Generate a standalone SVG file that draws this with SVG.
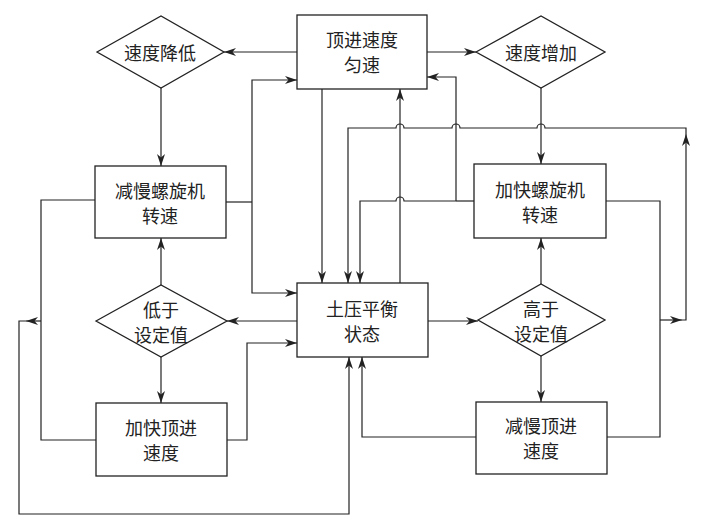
<svg xmlns="http://www.w3.org/2000/svg" width="705" height="524" viewBox="0 0 705 524">
<style>
.box{fill:#fff;stroke:#222;stroke-width:1.3}
.t{font-family:"Noto Sans CJK SC","Noto Sans",sans-serif;font-size:18px;fill:#222;text-anchor:middle;dominant-baseline:central}
.c{fill:none;stroke:#222;stroke-width:1.2}
.a{marker-end:url(#arr)}
</style>
<defs>
<marker id="arr" viewBox="0 0 12 8" markerWidth="12" markerHeight="8" markerUnits="userSpaceOnUse" refX="12" refY="4" orient="auto">
<path d="M0,0 L12,4 L0,8 L3.5,4 z" fill="#222"/>
</marker>
</defs>
<rect width="705" height="524" fill="#fff"/>
<g id="connectors">
<path class="c a" d="M297,52 L224,52"/>
<path class="c a" d="M427,52 L476,52"/>
<path class="c a" d="M161,88 L161,166"/>
<path class="c a" d="M541,88 L541,164"/>
<path class="c" d="M226,202 L252,202"/>
<path class="c a" d="M252,202 L252,80 L297,80"/>
<path class="c a" d="M252,202 L252,293 L297,293"/>
<path class="c a" d="M297,321 L227,321"/>
<path class="c a" d="M161,357 L161,403"/>
<path class="c a" d="M161,285 L161,238"/>
<path class="c a" d="M227,440 L247,440 L247,343 L297,343"/>
<path class="c" d="M95,200 L41,200 L41,440 L96,440"/>
<path class="c a" d="M41,321 L26,321"/>
<path class="c a" d="M26,321 L19,321 L19,514 L349,514 L349,357"/>
<path class="c a" d="M476,437 L362,437 L362,357"/>
<path class="c" d="M607,437 L660,437 L660,201 L606,201"/>
<path class="c a" d="M660,320 L682,320"/>
<path class="c a" d="M682,320 L686,320 L686,134"/>
<path class="c a" d="M686,134 L686,128 L545,128 A4,4 0 0 0 537,128 L460,128 A4,4 0 0 0 452,128 L404,128 A4,4 0 0 0 396,128 L348,128 L348,283"/>
<path class="c" d="M474,201 L456,201"/>
<path class="c a" d="M456,201 L456,77 L427,77"/>
<path class="c a" d="M456,201 L404,201 A4,4 0 0 0 396,201 L360,201 L360,283"/>
<path class="c a" d="M322,89 L322,283"/>
<path class="c a" d="M400,283 L400,89"/>
<path class="c a" d="M428,321 L478,321"/>
<path class="c a" d="M541,356 L541,402"/>
<path class="c a" d="M541,284 L541,238"/>
</g>
<g id="n_top"><rect class="box" x="297" y="15" width="130" height="74"/><text class="t" x="362" y="39">顶进速度</text><text class="t" x="362" y="64">匀速</text></g>
<g id="n_dec"><polygon class="box" points="97,52 161,16 224,52 161,88"/><text class="t" x="160" y="52">速度降低</text></g>
<g id="n_inc"><polygon class="box" points="476,52 541,16 605,52 541,88"/><text class="t" x="541" y="52">速度增加</text></g>
<g id="n_slow_screw"><rect class="box" x="95" y="166" width="131" height="72"/><text class="t" x="160" y="190">减慢螺旋机</text><text class="t" x="160" y="215">转速</text></g>
<g id="n_fast_screw"><rect class="box" x="474" y="164" width="132" height="74"/><text class="t" x="540" y="189">加快螺旋机</text><text class="t" x="540" y="214">转速</text></g>
<g id="n_balance"><rect class="box" x="297" y="283" width="131" height="74"/><text class="t" x="362" y="308">土压平衡</text><text class="t" x="362" y="333">状态</text></g>
<g id="n_low"><polygon class="box" points="96,321 161,285 227,321 161,357"/><text class="t" x="161" y="309">低于</text><text class="t" x="161" y="334">设定值</text></g>
<g id="n_high"><polygon class="box" points="478,320 541,284 605,320 541,356"/><text class="t" x="541" y="308">高于</text><text class="t" x="541" y="333">设定值</text></g>
<g id="n_fast_push"><rect class="box" x="96" y="403" width="131" height="73"/><text class="t" x="161" y="427">加快顶进</text><text class="t" x="161" y="452">速度</text></g>
<g id="n_slow_push"><rect class="box" x="476" y="402" width="131" height="72"/><text class="t" x="541" y="425">减慢顶进</text><text class="t" x="541" y="450">速度</text></g>
</svg>
